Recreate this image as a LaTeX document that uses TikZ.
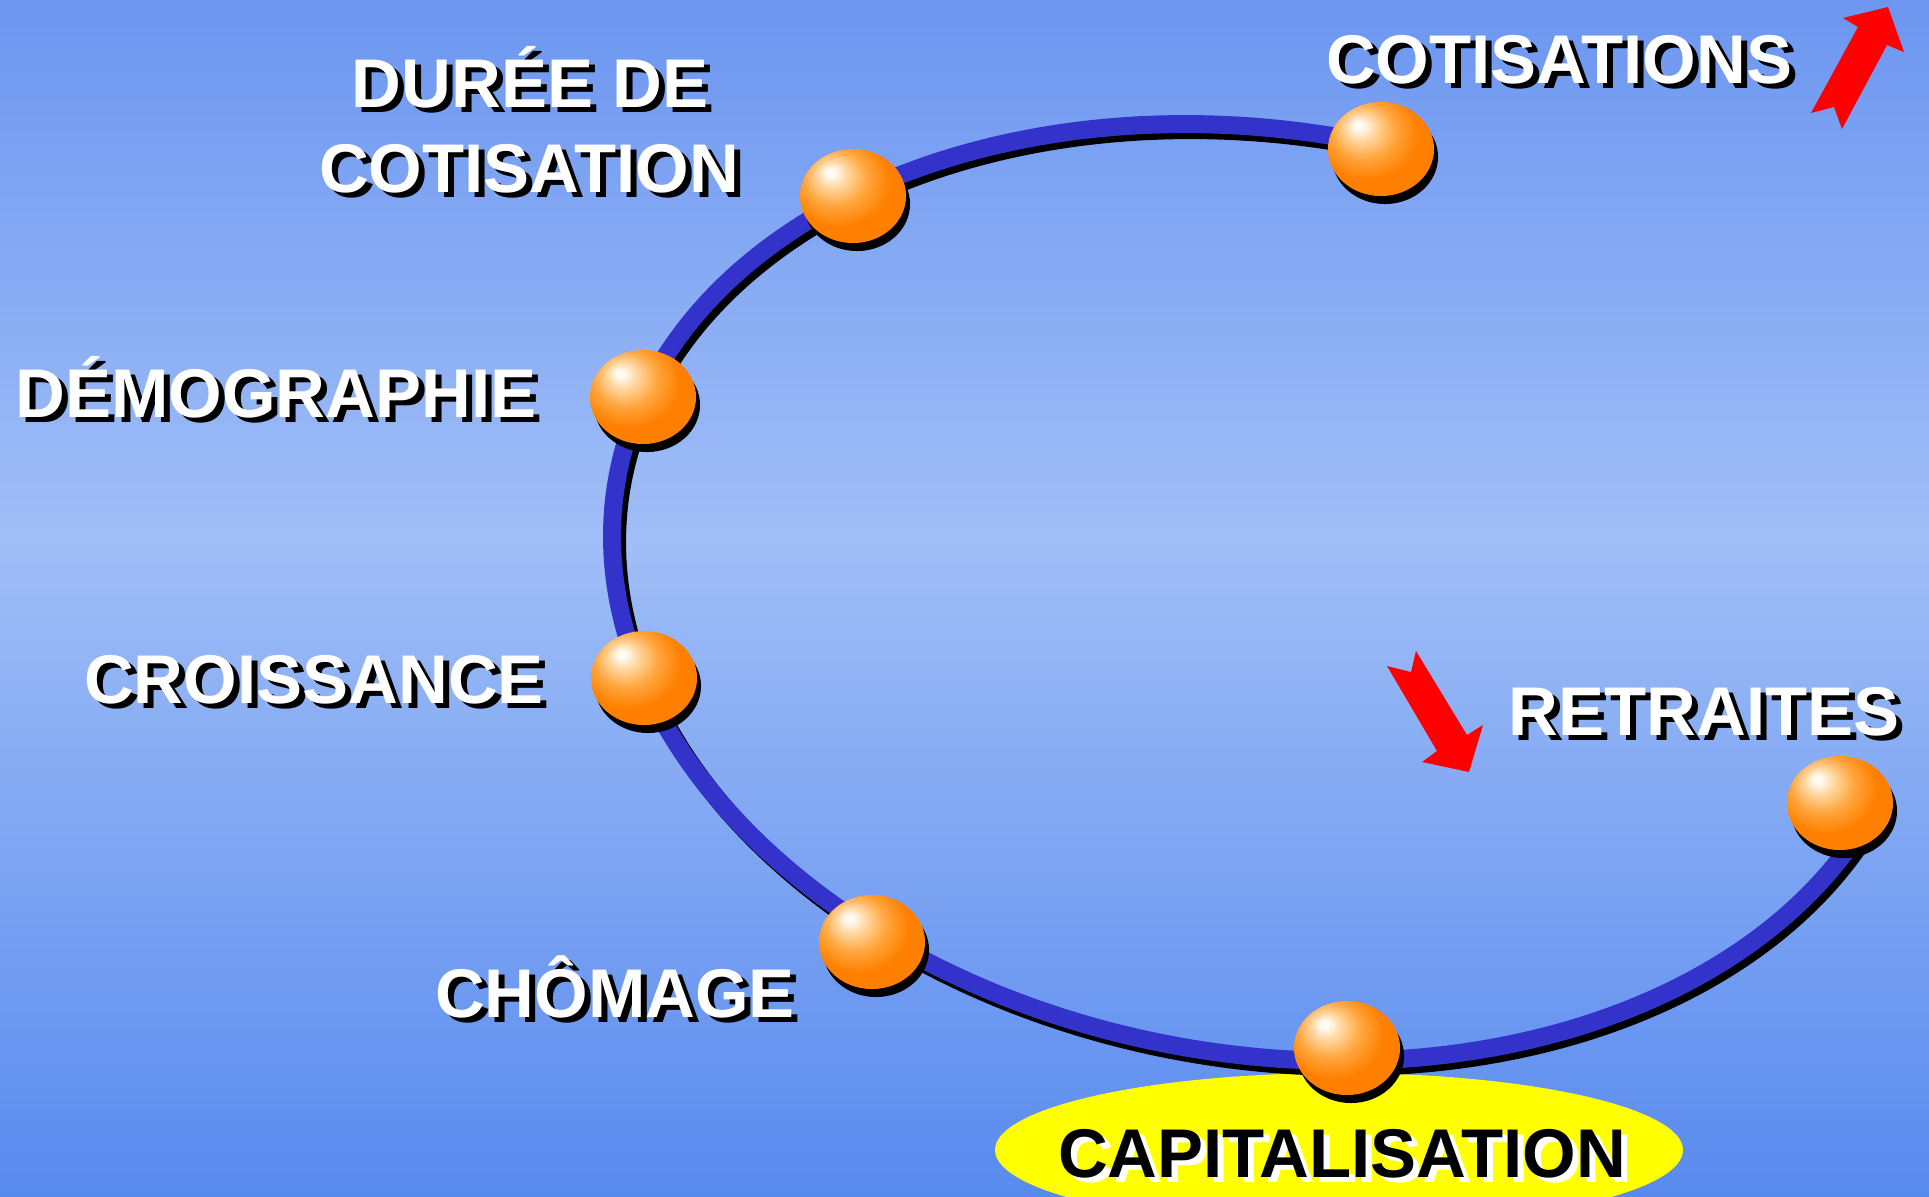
\documentclass[tikz,border=0pt]{standalone}
\usepackage{fontspec}
\setmainfont{Liberation Sans}
\usetikzlibrary{shapes.geometric,shadows}
\definecolor{bgtop}{RGB}{108,150,240}
\definecolor{bgmid}{RGB}{160,190,247}
\definecolor{bgbot}{RGB}{88,138,238}
\definecolor{curveblue}{RGB}{51,51,204}
\definecolor{ballorange}{RGB}{255,128,0}
\definecolor{ballmid}{RGB}{255,165,60}
\definecolor{balllight}{RGB}{255,215,160}
\definecolor{ballhi}{RGB}{255,250,242}
\definecolor{capyellow}{RGB}{255,255,0}
% TikZ maps the central 50bp of a shading onto the path
\pgfdeclareradialshading{ballsh}{\pgfpoint{-11bp}{13bp}}{color(0bp)=(ballhi); color(2bp)=(ballhi); color(7bp)=(balllight); color(15bp)=(ballmid); color(24bp)=(ballorange); color(60bp)=(ballorange)}
\pgfdeclareverticalshading{bgsh}{100bp}{color(0bp)=(bgbot); color(25bp)=(bgbot); color(52.5bp)=(bgmid); color(75bp)=(bgtop); color(100bp)=(bgtop)}
\tikzset{
  lbl/.style={font=\fontsize{19.6}{23}\selectfont\bfseries, anchor=base, inner sep=0pt},
  ballnode/.style={ellipse, minimum width=1.06cm, minimum height=0.94cm, inner sep=0pt,
    shade, shading=ballsh,
    general shadow={fill=black, shadow xshift=0.04cm, shadow yshift=-0.08cm}},
  curveline/.style={line width=0.18cm, line join=round},
  redarrow/.style={fill=red},
}
% text with an offset shadow: #1 text colour, #2 shadow colour, #3 text
\newcommand\shadowed[3]{\rlap{\kern0.06cm\raisebox{-0.05cm}{\textcolor{#2}{#3}}}\textcolor{#1}{#3}}
\begin{document}
\begin{tikzpicture}[x=0.01cm, y=-0.01cm]
\useasboundingbox (0,0) rectangle (1929,1196);
\clip (0,0) rectangle (1929,1196);
% background
\shade[shading=bgsh] (0,0) rectangle (1929,1196);
% capitalisation ellipse
\fill[capyellow] (1339,1150) ellipse [x radius=344, y radius=77];
% curve: a tilted ellipse arc
\draw[curveline, black, shift={(5,6)}] plot[domain=-85:-344, samples=180, smooth]
  ({1263.5 + 646.7*cos(\x) - 79.0*sin(\x)}, {592.5 + 112.3*cos(\x) + 454.8*sin(\x)});
\draw[curveline, curveblue] plot[domain=-85:-344, samples=180, smooth]
  ({1263.5 + 646.7*cos(\x) - 79.0*sin(\x)}, {592.5 + 112.3*cos(\x) + 454.8*sin(\x)});
% spheres
\node[ballnode] (b-cotis) at (1381,149) {};
\node[ballnode] (b-duree) at (853,196) {};
\node[ballnode] (b-demo) at (643,397) {};
\node[ballnode] (b-crois) at (644,678) {};
\node[ballnode] (b-chom) at (872,942) {};
\node[ballnode] (b-capi) at (1347,1048) {};
\node[ballnode] (b-retr) at (1840,803) {};
% labels
\node[lbl] (duree) at (530,107) {\shadowed{white}{black}{DURÉE DE}};
\node[lbl] (cotisation) at (529,192) {\shadowed{white}{black}{COTISATION}};
\node[lbl] (demo) at (276,417) {\shadowed{white}{black}{DÉMOGRAPHIE}};
\node[lbl] (crois) at (314,703) {\shadowed{white}{black}{CROISSANCE}};
\node[lbl] (chom) at (615,1017) {\shadowed{white}{black}{CHÔMAGE}};
\node[lbl] (cotis) at (1559,83) {\shadowed{white}{black}{COTISATIONS}};
\node[lbl] (retr) at (1704,735) {\shadowed{white}{black}{RETRAITES}};
\node[lbl] (capi) at (1342,1177) {\shadowed{black}{white}{CAPITALISATION}};
% arrows
\fill[redarrow] (1888,7) -- (1904,52) -- (1887,45) -- (1842,129) -- (1834,107) -- (1811,113) -- (1858,27) -- (1843,18) -- cycle;
\fill[redarrow] (1416,651) -- (1467,735) -- (1483,725) -- (1469,772) -- (1422,762) -- (1437,751) -- (1387,666) -- (1411,672) -- cycle;
\end{tikzpicture}
\end{document}
